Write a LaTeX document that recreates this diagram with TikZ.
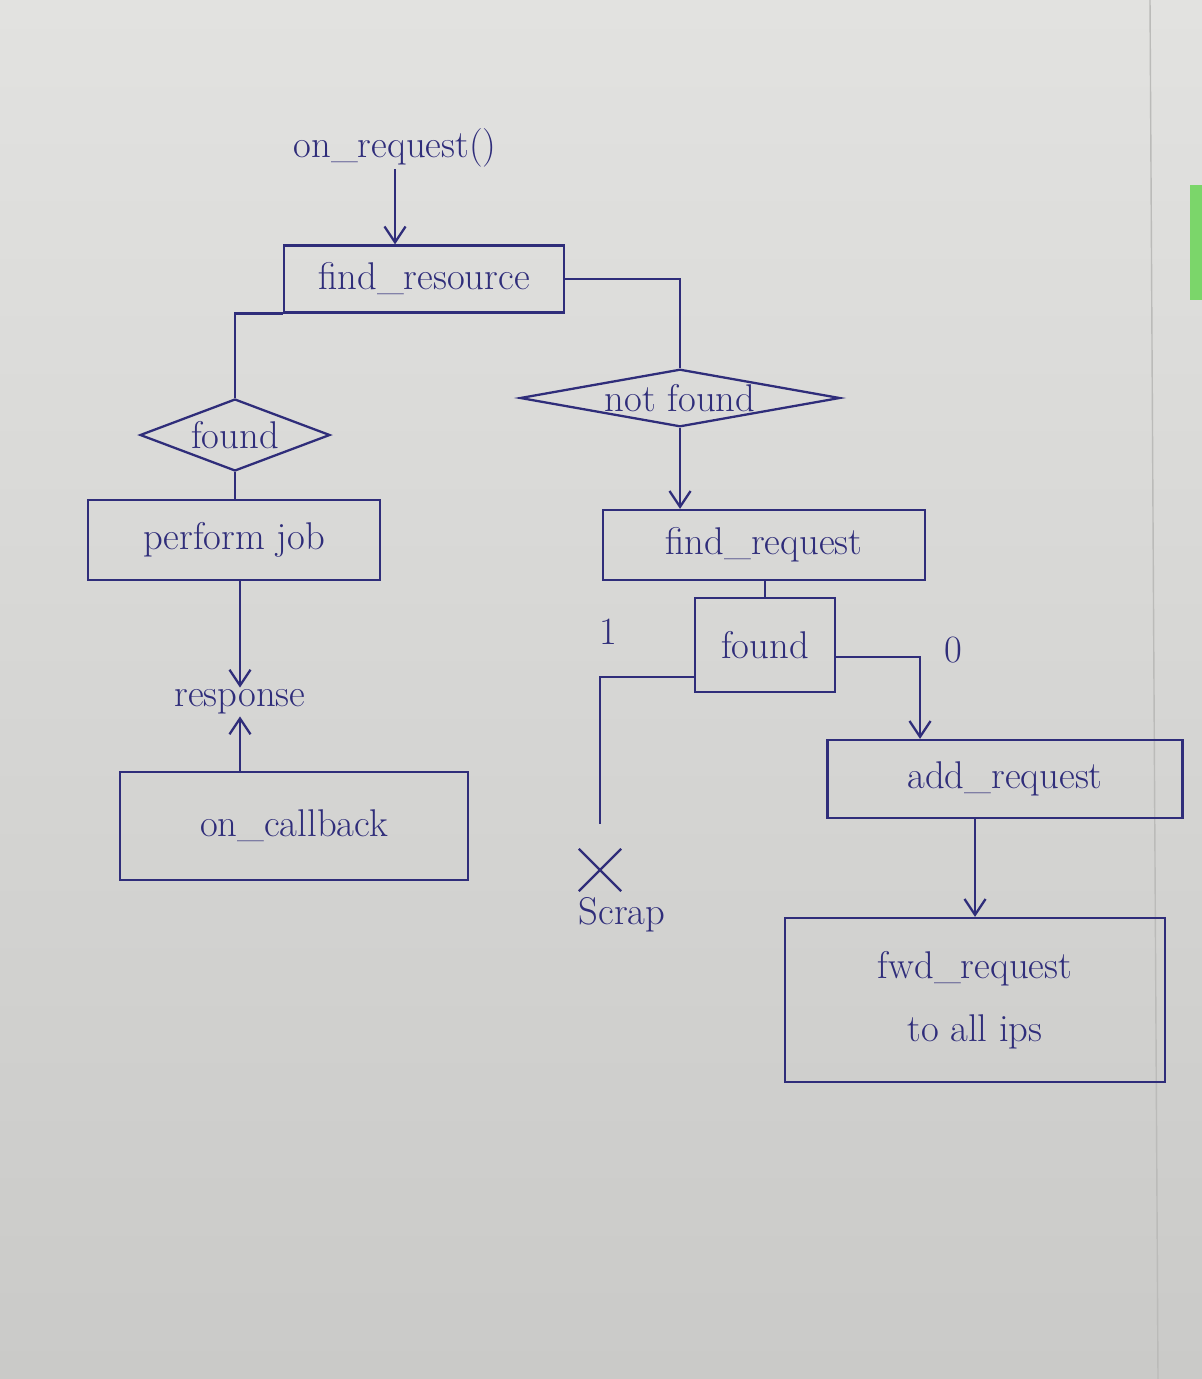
\documentclass[tikz,border=0pt]{standalone}
\usetikzlibrary{shapes.geometric,shapes.misc,arrows.meta}
\definecolor{ink}{HTML}{2F2D7A}
\definecolor{papertop}{HTML}{E2E2E0}
\definecolor{paperbot}{HTML}{CACAC8}
\definecolor{tab}{HTML}{7BD66A}
\tikzset{
  txt/.style={text=ink,font=\fontsize{22}{26}\selectfont,inner sep=1pt},
  proc/.style={txt,draw=ink,line width=1.3pt,minimum width=#1},
  decide/.style={txt,draw=ink,line width=1.3pt,diamond,inner sep=0pt},
  wire/.style={draw=ink,line width=1.3pt},
  arr/.style={wire,-{Straight Barb[length=9pt,width=12pt]}},
  crossmark/.style={draw=ink,line width=1.3pt,cross out,minimum size=0.8cm}
}
\begin{document}
\begin{tikzpicture}[x=0.02cm,y=-0.02cm]
\useasboundingbox (0,0) rectangle (1202,1379);
\shade[top color=papertop,bottom color=paperbot] (0,0) rectangle (1202,1379);
\draw[papertop!60!gray,line width=0.8pt] (1150,0) -- (1158,1379);
\fill[tab] (1190,185) rectangle (1202,300);
% top of the chart
\node[txt] (req) at (395,148) {on\_request()};
\node[proc=5.6cm,minimum height=1.34cm] (res) at (424,279) {find\_resource};
\node[decide,aspect=2.6,minimum width=3.8cm,minimum height=1.44cm] (found1) at (235,435) {found};
\node[decide,aspect=5,minimum width=6.4cm,minimum height=1.12cm] (notfound) at (680,398) {not found};
% left branch
\node[proc=5.84cm,minimum height=1.6cm] (perform) at (234,540) {perform job};
\node[txt] (resp) at (240,702) {response};
\node[proc=6.96cm,minimum height=2.16cm] (callback) at (294,826) {on\_callback};
% right branch
\node[proc=6.44cm,minimum height=1.4cm] (findreq) at (764,545) {find\_request};
\node[proc=2.8cm,minimum height=1.88cm] (found2) at (765,645) {found};
\node[txt] (one) at (608,632) {1};
\node[txt] (zero) at (953,650) {0};
\node[crossmark] (scrapx) at (600,870) {};
\node[txt] (scrap) at (622,915) {Scrap};
\node[proc=7.1cm,minimum height=1.56cm] (addreq) at (1005,779) {add\_request};
\node[proc=7.6cm,minimum height=3.28cm,align=center] (fwd) at (975,1000) {fwd\_request\\[10pt]to all ips};
% connectors
\draw[arr] (req.south) -- (req |- res.north);
\draw[wire] (res.south west) -| (found1.north);
\draw[wire] (res.east) -| (notfound.north);
\draw[wire] (found1.south) -- (found1.south |- perform.north);
\draw[arr] (resp |- perform.south) -- (resp.north);
\draw[arr] (resp |- callback.north) -- (resp.south);
\draw[arr] (notfound.south) -- (notfound.south |- findreq.north);
\draw[wire] (found2 |- findreq.south) -- (found2.north);
\draw[wire,shorten >=0.5cm] ([yshift=-0.64cm]found2.west) -| (scrapx.north);
\draw[arr] ([yshift=-0.24cm]found2.east) -| ([xshift=-1.7cm]addreq.north);
\draw[arr] (fwd |- addreq.south) -- (fwd.north);
\end{tikzpicture}
\end{document}
